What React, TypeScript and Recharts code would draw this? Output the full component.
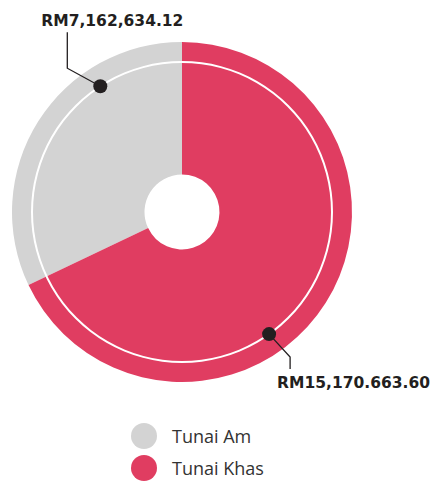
import React from 'react';
import { PieChart, Pie, Cell, Legend } from 'recharts';

const categories = ['Tunai Am', 'Tunai Khas'];
const values = [7162634.12, 15170663.6];
const valueLabels = ['RM7,162,634.12', 'RM15,170.663.60'];
const colors = ['#D3D3D3', '#E03D61'];

const data = categories.map((name, i) => ({ name, value: values[i] }));
const ring = [{ name: 'ring', value: 1 }];

const CX = 182;
const CY = 212;
const RING_R = 150;
const LABEL_ANGLES = [123, 305.5];
const DARK = '#231F20';
const RAD = Math.PI / 180;

const renderLabel = (props: any) => {
  const { cx, cy, index } = props;
  const a = LABEL_ANGLES[index];
  const x = cx + RING_R * Math.cos(-a * RAD);
  const y = cy + RING_R * Math.sin(-a * RAD);
  let pts: string;
  let tx: number;
  let ty: number;
  if (index === 0) {
    const kx = x - 33;
    const ky = y - 18;
    pts = `${x},${y} ${kx},${ky} ${kx},${ky - 36}`;
    tx = kx - 26;
    ty = ky - 42;
  } else {
    const kx = x + 21;
    const ky = y + 23;
    pts = `${x},${y} ${kx},${ky} ${kx},${ky + 12}`;
    tx = kx - 13;
    ty = ky + 31;
  }
  return (
    <g key={`lbl-${index}`}>
      <polyline points={pts} fill="none" stroke={DARK} strokeWidth={1.3} />
      <circle cx={x} cy={y} r={7} fill={DARK} />
      <text
        x={tx}
        y={ty}
        fill={DARK}
        fontFamily="'DejaVu Sans', sans-serif"
        fontWeight="bold"
        fontSize={15.5}
        textAnchor="start"
      >
        {valueLabels[index]}
      </text>
    </g>
  );
};

const renderLegend = () => (
  <div style={{ fontFamily: "'Open Sans', sans-serif", fontSize: 18, color: '#333' }}>
    {categories.map((name, i) => (
      <div
        key={name}
        style={{ position: 'absolute', left: 131, top: i * 32, height: 26, display: 'flex', alignItems: 'center' }}
      >
        <span
          style={{ width: 26, height: 26, borderRadius: '50%', background: colors[i], display: 'inline-block' }}
        />
        <span style={{ marginLeft: 15, lineHeight: '26px' }}>{name}</span>
      </div>
    ))}
  </div>
);

export default function App() {
  return (
    <div style={{ position: 'absolute', left: 0, top: 0, width: 440, height: 481, background: '#fff' }}>
      <PieChart width={440} height={481} margin={{ top: 0, right: 0, bottom: 0, left: 0 }}>
        <Pie
          data={data}
          dataKey="value"
          nameKey="name"
          cx={CX}
          cy={CY}
          innerRadius={37.5}
          outerRadius={170}
          startAngle={90}
          endAngle={450}
          stroke="none"
          isAnimationActive={false}
        >
          {data.map((d, i) => (
            <Cell key={d.name} fill={colors[i]} />
          ))}
        </Pie>
        <Pie
          data={ring}
          dataKey="value"
          cx={CX}
          cy={CY}
          innerRadius={149}
          outerRadius={151}
          fill="#fff"
          stroke="none"
          isAnimationActive={false}
          legendType="none"
        />
        <Pie
          data={data}
          dataKey="value"
          cx={CX}
          cy={CY}
          innerRadius={37.5}
          outerRadius={170}
          startAngle={90}
          endAngle={450}
          fill="none"
          stroke="none"
          label={renderLabel}
          labelLine={false}
          isAnimationActive={false}
          legendType="none"
        >
          {data.map((d) => (
            <Cell key={d.name} fill="none" />
          ))}
        </Pie>
        <Legend
          content={renderLegend}
          wrapperStyle={{ position: 'absolute', left: 0, top: 423, width: 440, height: 60 }}
        />
      </PieChart>
    </div>
  );
}
